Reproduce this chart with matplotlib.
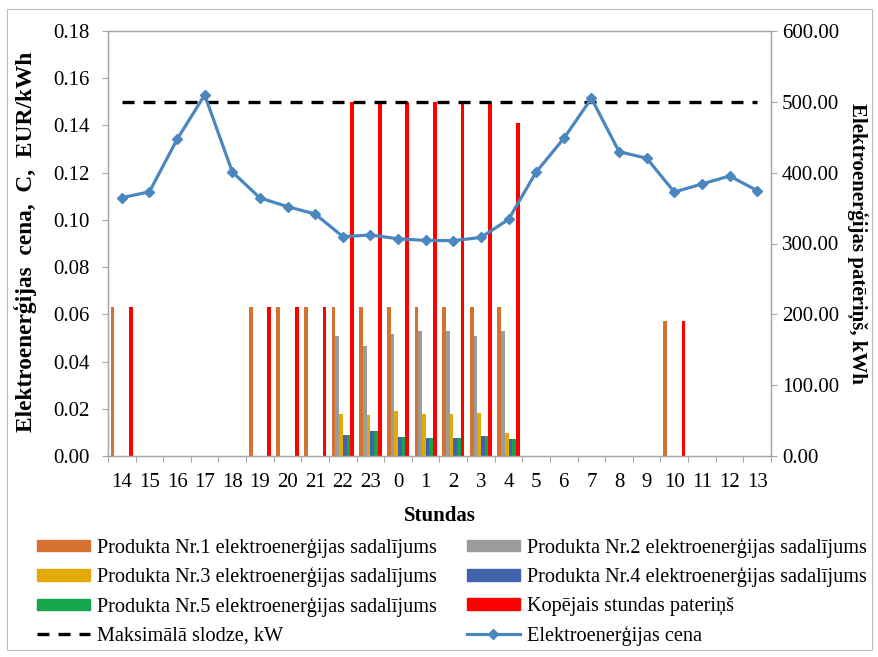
import numpy as np
import matplotlib
matplotlib.use('Agg')
import matplotlib.pyplot as plt
from matplotlib.lines import Line2D
from matplotlib.patches import Patch, Rectangle
from matplotlib.ticker import FormatStrFormatter

# ---------------- data ----------------
hours = ['14', '15', '16', '17', '18', '19', '20', '21', '22', '23', '0', '1',
         '2', '3', '4', '5', '6', '7', '8', '9', '10', '11', '12', '13']
price = [0.1094, 0.1119, 0.1341, 0.1529, 0.1203, 0.1093, 0.1056, 0.1025,
         0.0929, 0.0936, 0.0920, 0.0913, 0.0912, 0.0926, 0.1002, 0.1203,
         0.1345, 0.1515, 0.1289, 0.1261, 0.1118, 0.1152, 0.1186, 0.1124]
p1 = [210, 0, 0, 0, 0, 210, 210, 210, 210, 210, 210, 210,
      210, 210, 210, 0, 0, 0, 0, 0, 190, 0, 0, 0]
p2 = [0, 0, 0, 0, 0, 0, 0, 0, 169, 156, 172, 177,
      176, 170, 177, 0, 0, 0, 0, 0, 0, 0, 0, 0]
p3 = [0, 0, 0, 0, 0, 0, 0, 0, 60, 58, 63, 60,
      60, 61, 32, 0, 0, 0, 0, 0, 0, 0, 0, 0]
p4 = [0, 0, 0, 0, 0, 0, 0, 0, 29, 36, 27, 25,
      25, 28, 24, 0, 0, 0, 0, 0, 0, 0, 0, 0]
p5 = [0, 0, 0, 0, 0, 0, 0, 0, 29, 36, 27, 25,
      25, 28, 24, 0, 0, 0, 0, 0, 0, 0, 0, 0]
total = [210, 0, 0, 0, 0, 210, 210, 210, 500, 500, 500, 500,
         500, 500, 470, 0, 0, 0, 0, 0, 190, 0, 0, 0]
max_load = [500] * 24

labels = ['Produkta Nr.1 elektroenerģijas sadalījums',
          'Produkta Nr.2 elektroenerģijas sadalījums',
          'Produkta Nr.3 elektroenerģijas sadalījums',
          'Produkta Nr.4 elektroenerģijas sadalījums',
          'Produkta Nr.5 elektroenerģijas sadalījums',
          'Kopējais stundas pateriņš',
          'Maksimālā slodze, kW',
          'Elektroenerģijas cena']
colors = ['#D6712F', '#9B9B9B', '#E3A906', '#3F64AC', '#13A64C', '#FF0000']
price_color = '#4B87BF'
spine_color = '#A6A6A6'

plt.rcParams['font.family'] = ['Liberation Serif', 'DejaVu Serif']

W, H = 879, 657
fig = plt.figure(figsize=(W / 100, H / 100), dpi=100)
L, R, T, B = 108, 771, 31, 456
ax = fig.add_axes([L / W, 1 - B / H, (R - L) / W, (B - T) / H])
ax2 = ax.twinx()

x = np.arange(len(hours))
w = 0.134
bars = [p1, p2, p3, p4, p5, total]
for i, vals in enumerate(bars):
    ax2.bar(x + (i - 2.5) * w, vals, w, color=colors[i], zorder=2, linewidth=0)
ax2.plot(x, max_load, color='black', lw=2.4, ls=(0, (3.6, 2.7)), zorder=3)
ax.plot(x, price, color=price_color, lw=2.3, marker='D', ms=5.5, zorder=4)

ax.set_zorder(ax2.get_zorder() + 1)
ax.patch.set_visible(False)

ax.set_xlim(-0.5, len(hours) - 0.5)
ax.set_ylim(0, 0.18)
ax2.set_ylim(0, 600)
ax.set_yticks(np.arange(0, 0.1801, 0.02))
ax2.set_yticks(np.arange(0, 601, 100))
ax.yaxis.set_major_formatter(FormatStrFormatter('%.2f'))
ax2.yaxis.set_major_formatter(FormatStrFormatter('%.2f'))

ax.set_xticks(np.arange(len(hours) + 1) - 0.5)
ax.set_xticklabels([])
ax.set_xticks(x, minor=True)
ax.set_xticklabels(hours, minor=True)
ax.tick_params(axis='x', which='minor', length=0, pad=12, labelsize=15)
ax.tick_params(axis='x', which='major', length=4, width=0.8, color=spine_color)
ax.tick_params(axis='y', length=4, width=0.8, color=spine_color, labelsize=15, pad=9)
ax2.tick_params(axis='y', length=4, width=0.8, color=spine_color, labelsize=15, pad=4)

for a in (ax, ax2):
    for s in a.spines.values():
        s.set_color(spine_color)
        s.set_linewidth(0.9)

ax.set_ylabel('Elektroenerģijas  cena,  C,  EUR/kWh', fontsize=16.8, fontweight='bold')
ax.yaxis.set_label_coords((37 - L) / (R - L), 0.505)
ax2.set_ylabel('Elektroenerģijas patēriņš, kWh', fontsize=15, fontweight='bold',
               rotation=270, va='center')
ax2.yaxis.set_label_coords((858 - L) / (R - L), 0.5)
ax.set_xlabel('Stundas', fontsize=15, fontweight='bold')
ax.xaxis.set_label_coords(0.5, (B - 506) / (B - T))

# legend
h = [Patch(color=c) for c in colors]
h.append(Line2D([], [], color='black', lw=2.4, ls=(0, (3.6, 2.7))))
h.append(Line2D([], [], color=price_color, lw=2.3, marker='D', ms=5.5))
order = [0, 2, 4, 6, 1, 3, 5, 7]
fig.legend([h[i] for i in order], [labels[i] for i in order], ncol=2,
           loc='upper left', bbox_to_anchor=(37 / W, 1 - 538 / H),
           frameon=False, fontsize=14.6, borderpad=0, borderaxespad=0,
           handlelength=2.6, handleheight=0.5, handletextpad=0.35,
           labelspacing=0.48, columnspacing=1.5)

fig.patches.append(Rectangle((7 / W, 1 - 650 / H), (872 - 7) / W, (650 - 9) / H,
                             transform=fig.transFigure, fill=False,
                             ec='#BFBFBF', lw=0.8))

fig.savefig('out.png', dpi=100)
